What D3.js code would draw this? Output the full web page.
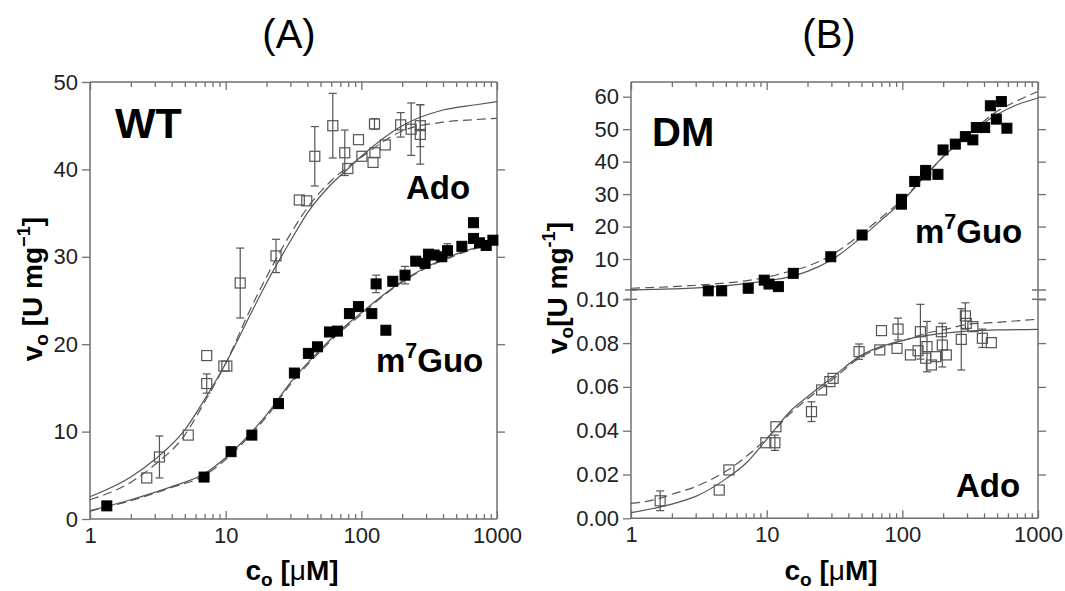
<!DOCTYPE html>
<html>
<head>
<meta charset="utf-8">
<script src="https://cdn.jsdelivr.net/npm/d3@7"></script>
<style>
body { margin: 0; background: #fff; }
text { font-family: "Liberation Sans", Arial, sans-serif; }
</style>
</head>
<body>
<div id="container"></div>
<script>
// ---- tick values ----
var xMajor = [1, 10, 100, 1000];
var xMinor = [2, 3, 4, 5, 6, 7, 8, 9, 20, 30, 40, 50, 60, 70, 80, 90, 200, 300, 400, 500, 600, 700, 800, 900];
var yTicksA = [0, 10, 20, 30, 40, 50];
var yTicksBup = [10, 20, 30, 40, 50, 60];
var yTicksBlo = [0, 0.02, 0.04, 0.06, 0.08, 0.10];

// ---- panel A (WT) : [c, v, err] ----
var adoA = [
  [2.62, 4.7, 0], [3.25, 7.1, 2.4], [5.3, 9.6, 0], [7.25, 18.7, 0], [7.25, 15.5, 1.1],
  [9.7, 17.5, 0], [10.2, 17.5, 0], [12.8, 27.0, 4.0], [23.5, 30.1, 1.9], [34.9, 36.5, 0],
  [39.6, 36.4, 0], [45.4, 41.5, 3.4], [61.6, 45.0, 3.7], [75.5, 41.9, 2.6], [79.5, 40.1, 0],
  [95.3, 43.4, 0], [101, 41.5, 0], [122, 40.8, 0], [125, 45.2, 0.6], [126, 41.9, 0],
  [150, 42.8, 0], [195, 45.1, 1.4], [233, 44.6, 3.0], [272, 45.0, 2.4], [272, 44.0, 3.4]
];
var m7guoA = [
  [1.33, 1.5, 0], [6.93, 4.8, 0], [10.96, 7.7, 0], [15.6, 9.6, 0], [24.5, 13.2, 0],
  [32.1, 16.7, 0], [40.7, 18.95, 0], [47.5, 19.7, 0], [58.2, 21.4, 0], [66.6, 21.5, 0],
  [81.7, 23.5, 0], [95.2, 24.3, 0], [119.5, 23.5, 0], [151.7, 21.6, 0], [128.5, 26.9, 1.0],
  [170.6, 27.2, 0], [210, 27.9, 1.0], [251.8, 29.5, 0], [295, 29.25, 0], [313, 30.3, 0],
  [344, 30.2, 0], [392, 30.0, 0], [431.6, 30.7, 0.8], [551, 31.2, 0], [671, 33.9, 0],
  [671, 32.1, 0], [743, 31.6, 0], [832, 31.3, 0], [933, 31.9, 0]
];
var adoAfit = [[1, 2.55], [2, 4.8], [3, 6.8], [5, 10.2], [7, 13.7], [10, 17.8], [15, 23.2], [20, 27.0],
  [30, 31.8], [40, 35.0], [60, 38.3], [80, 40.1], [100, 41.5], [200, 45.0], [400, 46.8], [700, 47.4], [1000, 47.75]];
var adoAfit2 = [[1, 2.2], [2, 4.2], [3, 6.2], [5, 9.6], [7, 13.4], [10, 17.8], [15, 23.8], [20, 27.7],
  [30, 32.6], [40, 35.6], [60, 38.7], [80, 40.3], [100, 41.4], [200, 44.4], [400, 45.4], [700, 45.7], [1000, 45.85]];
var m7guoAfit = [[1, 0.95], [2, 2.2], [4, 3.7], [7, 5.2], [10, 7.0], [15, 9.7], [20, 11.9], [30, 15.6],
  [50, 19.4], [70, 21.6], [100, 23.6], [150, 25.8], [200, 27.2], [300, 28.8], [500, 30.3], [1000, 31.7]];
var m7guoAfit2 = [[1, 0.9], [2, 2.1], [4, 3.6], [7, 5.0], [10, 6.8], [15, 9.5], [20, 11.7], [30, 15.4],
  [50, 19.2], [70, 21.4], [100, 23.4], [150, 25.7], [200, 27.1], [300, 28.7], [500, 30.2], [1000, 31.6]];

// ---- panel B (DM) ----
var m7guoB = [
  [3.71, 0.2, 0], [4.66, 0.2, 0], [7.31, 1.0, 0], [9.59, 3.5, 0], [10.4, 2.3, 0], [12.2, 1.5, 0],
  [15.7, 5.6, 0], [29.7, 10.7, 0], [50.5, 17.4, 0], [98.5, 26.9, 0], [98.5, 28.4, 0], [123.4, 33.9, 0],
  [148.6, 37.3, 0], [148.6, 35.9, 0], [183, 36.1, 0], [199.5, 43.6, 0], [245.7, 45.4, 0], [291.5, 47.7, 0],
  [331, 46.7, 0], [351, 50.5, 0], [404.6, 50.5, 0], [445.5, 57.2, 0], [493, 53.1, 0], [537, 58.5, 0], [590, 50.3, 0]
];
var adoB = [
  [1.64, 0.0080, 0.0045], [4.47, 0.0129, 0], [5.27, 0.0221, 0], [9.86, 0.0345, 0], [11.5, 0.0345, 0.0035],
  [11.7, 0.0418, 0], [21.4, 0.0487, 0.0045], [25.4, 0.0586, 0], [29.2, 0.0624, 0], [30.9, 0.0639, 0],
  [48, 0.0761, 0.0035], [68.2, 0.0769, 0], [70.2, 0.0857, 0], [91.4, 0.0776, 0], [93, 0.0864, 0.005],
  [114.7, 0.0746, 0], [130.6, 0.0765, 0], [135.9, 0.0852, 0.0125], [148.6, 0.0731, 0], [152, 0.0784, 0.0115],
  [163.8, 0.0700, 0], [176, 0.0738, 0], [194, 0.0852, 0], [197, 0.0791, 0.0100], [211, 0.0746, 0],
  [272, 0.0817, 0.0140], [291.5, 0.0924, 0.0060], [296, 0.0890, 0], [331, 0.0875, 0], [389, 0.0822, 0.0042],
  [453, 0.0802, 0]
];
var m7guoBfit = [[1, 0.5], [2, 0.8], [4, 1.4], [7, 2.4], [10, 3.3], [15, 4.6], [20, 6.2], [30, 9.7],
  [50, 16.7], [70, 22.0], [100, 27.8], [150, 36.0], [200, 41.5], [300, 48.0], [500, 54.5], [700, 57.5], [1000, 59.6]];
var m7guoBfit2 = [[1, 1.0], [2, 1.5], [4, 2.3], [7, 3.3], [10, 4.4], [15, 6.3], [20, 7.8], [30, 11.2],
  [50, 17.8], [70, 22.8], [100, 28.3], [150, 36.0], [200, 41.5], [300, 48.0], [500, 55.5], [700, 58.7], [1000, 61.6]];
var adoBfit = [[1, 0.0026], [1.6, 0.005], [2, 0.0065], [3, 0.010], [5, 0.018], [7, 0.025], [10, 0.036],
  [15, 0.049], [20, 0.0555], [30, 0.064], [50, 0.0745], [70, 0.0785], [100, 0.0812], [150, 0.0835],
  [200, 0.0845], [300, 0.0855], [500, 0.086], [1000, 0.0863]];
var adoBfit2 = [[1, 0.0068], [1.6, 0.009], [2, 0.011], [3, 0.0145], [5, 0.0215], [7, 0.028], [10, 0.0365],
  [15, 0.048], [20, 0.0545], [30, 0.063], [50, 0.0738], [70, 0.078], [100, 0.081], [150, 0.0845],
  [200, 0.086], [300, 0.0885], [500, 0.0895], [1000, 0.0909]];

var gray = "#707070";
var svg = d3.select("div#container").append("svg").attr("width", 1065).attr("height", 591);

// scales
var xA = d3.scaleLog().domain([1, 1000]).range([90, 497]);
var yA = d3.scaleLinear().domain([0, 50]).range([519, 82]);
var xB = d3.scaleLog().domain([1, 1000]).range([631, 1038]);
var yBup = d3.scaleLinear().domain([0, 60]).range([291.5, 96.7]);
var yBlo = d3.scaleLinear().domain([0, 0.10]).range([518.3, 299.3]);

function styleAxis(sel) {
  sel.attr("font-size", 22).attr("font-family", "Liberation Sans, Arial, sans-serif");
  sel.select(".domain").remove();
  sel.selectAll("line").attr("stroke", gray).attr("stroke-width", 1.3);
  sel.selectAll("text").attr("fill", "#222");
  return sel;
}

function line(g, x1, y1, x2, y2) {
  g.append("line").attr("x1", x1).attr("y1", y1).attr("x2", x2).attr("y2", y2)
    .attr("stroke", gray).attr("stroke-width", 1.5);
}

function xAxes(x, yTop, yBot) {
  svg.append("g").attr("transform", "translate(0," + yBot + ")")
    .call(d3.axisBottom(x).tickValues(xMajor).tickFormat(d3.format("d")).tickSize(-8).tickPadding(8).tickSizeOuter(0))
    .call(styleAxis);
  svg.append("g").attr("transform", "translate(0," + yBot + ")")
    .call(d3.axisBottom(x).tickValues(xMinor).tickFormat("").tickSize(-5).tickSizeOuter(0))
    .call(styleAxis);
  svg.append("g").attr("transform", "translate(0," + yTop + ")")
    .call(d3.axisTop(x).tickValues(xMajor).tickFormat("").tickSize(-8).tickSizeOuter(0))
    .call(styleAxis);
  svg.append("g").attr("transform", "translate(0," + yTop + ")")
    .call(d3.axisTop(x).tickValues(xMinor).tickFormat("").tickSize(-5).tickSizeOuter(0))
    .call(styleAxis);
}

function yAxes(y, ticks, fmt, xL, xR) {
  svg.append("g").attr("transform", "translate(" + xL + ",0)")
    .call(d3.axisLeft(y).tickValues(ticks).tickFormat(fmt).tickSize(8).tickPadding(4).tickSizeOuter(0))
    .call(styleAxis);
  svg.append("g").attr("transform", "translate(" + xR + ",0)")
    .call(d3.axisRight(y).tickValues(ticks.filter(function(t) { return y(t) > 84 && y(t) < 517; }))
      .tickFormat("").tickSize(8).tickSizeOuter(0))
    .call(styleAxis);
}

function curve(x, y, data, dashed) {
  var ln = d3.line().x(function(d) { return x(d[0]); }).y(function(d) { return y(d[1]); }).curve(d3.curveMonotoneX);
  svg.append("path").datum(data).attr("d", ln).attr("fill", "none")
    .attr("stroke", "#555").attr("stroke-width", 1.2)
    .attr("stroke-dasharray", dashed ? "9,5" : null);
}

function points(x, y, data, filled) {
  var g = svg.append("g");
  var withErr = data.filter(function(d) { return d[2] > 0; });
  g.selectAll("g.eb").data(withErr).enter().append("g").each(function(d) {
    var s = d3.select(this), cx = x(d[0]), t = y(d[1] + d[2]), b = y(d[1] - d[2]);
    s.append("line").attr("x1", cx).attr("x2", cx).attr("y1", t).attr("y2", b);
    s.append("line").attr("x1", cx - 4).attr("x2", cx + 4).attr("y1", t).attr("y2", t);
    s.append("line").attr("x1", cx - 4).attr("x2", cx + 4).attr("y1", b).attr("y2", b);
    s.selectAll("line").attr("stroke", "#555").attr("stroke-width", 1.2);
  });
  g.selectAll("rect").data(data).enter().append("rect")
    .attr("x", function(d) { return x(d[0]) - 5; })
    .attr("y", function(d) { return y(d[1]) - 5; })
    .attr("width", 10).attr("height", 10)
    .attr("fill", filled ? "#000" : "none")
    .attr("stroke", filled ? "#000" : "#555")
    .attr("stroke-width", filled ? 1 : 1.2);
}

function label(x, y, size, parts, rotate) {
  var t = svg.append("text").attr("x", x).attr("y", y).attr("font-size", size)
    .attr("font-weight", "bold").attr("fill", "#000");
  if (rotate) t.attr("text-anchor", "middle").attr("transform", "rotate(-90," + x + "," + y + ")");
  parts.forEach(function(p) {
    var ts = t.append("tspan").text(p[0]);
    if (p[1] === "sub") ts.attr("font-size", size * 0.68).attr("dy", size * 0.22);
    else if (p[1] === "sup") ts.attr("font-size", size * 0.65).attr("dy", -size * 0.42);
    else if (p[1] === "bsub") ts.attr("dy", -size * 0.22);
    else if (p[1] === "bsup") ts.attr("dy", size * 0.42);
    if (p[2]) ts.attr("font-weight", "normal");
  });
  return t;
}

// ---- panel A ----
line(svg, 90, 82, 90, 519); line(svg, 497, 82, 497, 519);
line(svg, 90, 82, 497, 82); line(svg, 90, 519, 497, 519);
xAxes(xA, 82, 519);
yAxes(yA, yTicksA, d3.format("d"), 90, 497);
curve(xA, yA, adoAfit, false); curve(xA, yA, adoAfit2, true);
curve(xA, yA, m7guoAfit, false); curve(xA, yA, m7guoAfit2, true);
points(xA, yA, adoA, false);
points(xA, yA, m7guoA, true);

// ---- panel B ----
line(svg, 631, 82, 631, 518.3); line(svg, 1038, 82, 1038, 518.3);
line(svg, 631, 82, 1038, 82); line(svg, 631, 518.3, 1038, 518.3);
xAxes(xB, 82, 518.3);
yAxes(yBup, yTicksBup, d3.format("d"), 631, 1038);
yAxes(yBlo, yTicksBlo, d3.format(".2f"), 631, 1038);
// axis break marks
[290, 299.3].forEach(function(yy) {
  line(svg, 625, yy, 637, yy);
  line(svg, 1032, yy, 1046, yy);
});
curve(xB, yBup, m7guoBfit, false); curve(xB, yBup, m7guoBfit2, true);
curve(xB, yBlo, adoBfit, false); curve(xB, yBlo, adoBfit2, true);
points(xB, yBlo, adoB, false);
points(xB, yBup, m7guoB, true);

// ---- titles and labels ----
svg.append("text").attr("x", 289).attr("y", 48).attr("text-anchor", "middle").attr("font-size", 40).text("(A)");
svg.append("text").attr("x", 829).attr("y", 48).attr("text-anchor", "middle").attr("font-size", 40).text("(B)");

label(115, 138, 43, [["WT"]]);
label(652, 146, 40, [["DM"]]);
label(406, 199, 33, [["Ado"]]);
label(376, 372, 33, [["m"], ["7", "sup"], ["Guo", "bsup"]]);
label(915, 243, 33, [["m"], ["7", "sup"], ["Guo", "bsup"]]);
label(956, 497, 33, [["Ado"]]);

label(42, 289, 28, [["v"], ["o", "sub"], [" [U mg", "bsub"], ["\u22121", "sup"], ["]", "bsup"]], true);
label(567, 288, 28, [["v"], ["o", "sub"], ["[U mg", "bsub"], ["-1", "sup"], ["]", "bsup"]], true);

label(292, 580, 28, [["c"], ["o", "sub"], [" [", "bsub"], ["\u03bc", null, true], ["M]"]]).attr("text-anchor", "middle");
label(831, 580, 28, [["c"], ["o", "sub"], [" [", "bsub"], ["\u03bc", null, true], ["M]"]]).attr("text-anchor", "middle");
</script>
</body>
</html>
